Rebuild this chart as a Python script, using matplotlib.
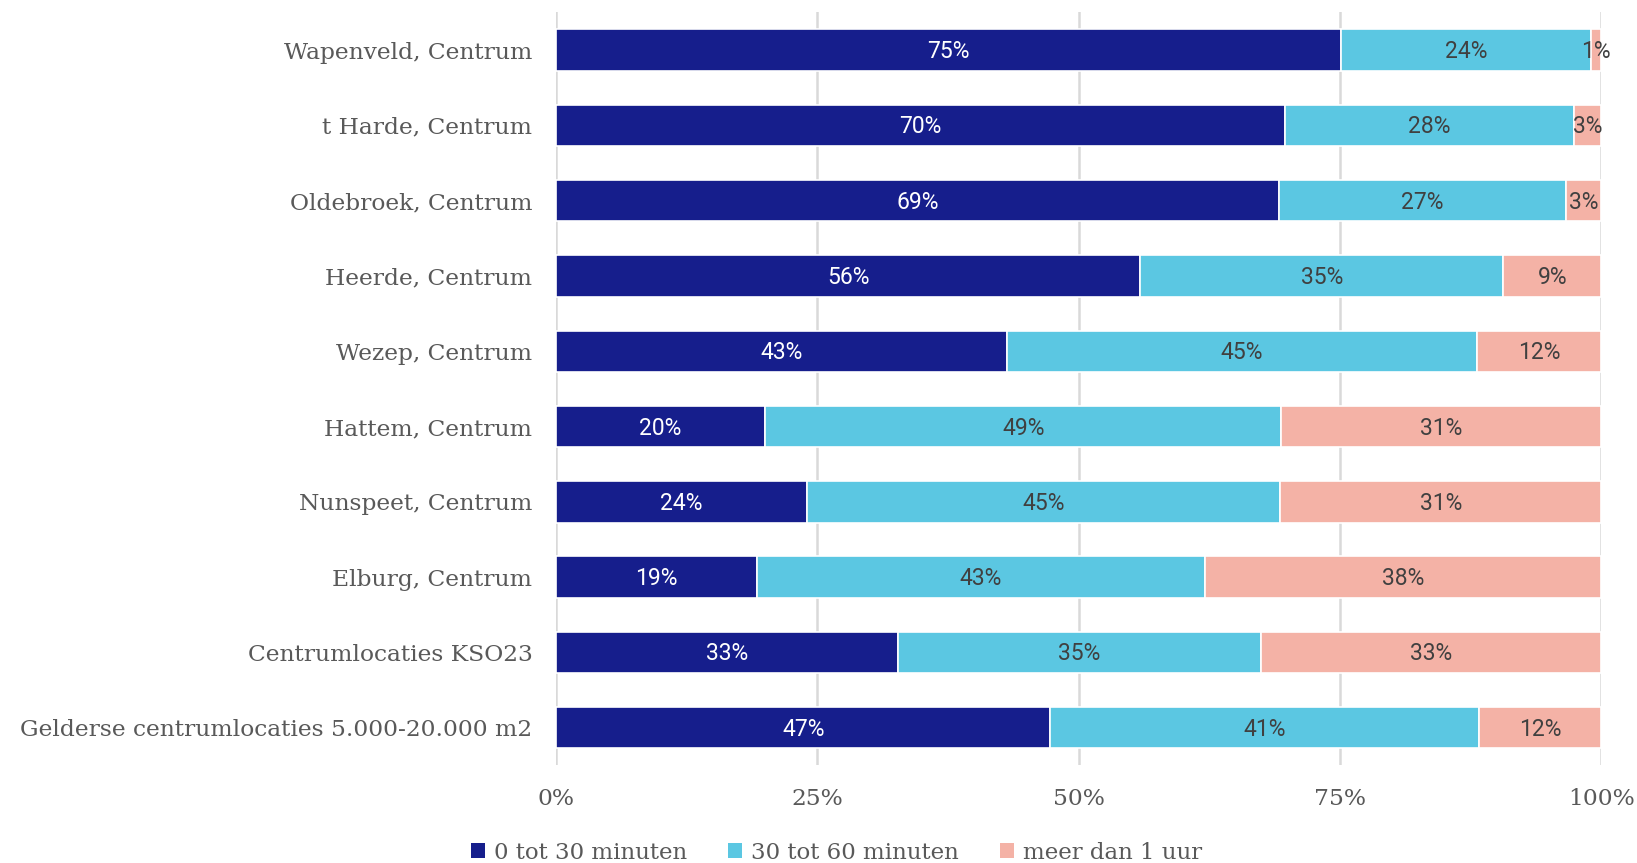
import matplotlib
matplotlib.use("Agg")
import matplotlib.pyplot as plt
from matplotlib.patches import Patch
import numpy as np

categories = [
    "Wapenveld, Centrum",
    "t Harde, Centrum",
    "Oldebroek, Centrum",
    "Heerde, Centrum",
    "Wezep, Centrum",
    "Hattem, Centrum",
    "Nunspeet, Centrum",
    "Elburg, Centrum",
    "Centrumlocaties KSO23",
    "Gelderse centrumlocaties 5.000-20.000 m2",
]
series_names = ["0 tot 30 minuten", "30 tot 60 minuten", "meer dan 1 uur"]
s_0_30 = [75.1, 69.7, 69.2, 55.9, 43.1, 20.0, 24.0, 19.2, 32.7, 47.3]
s_30_60 = [23.9, 27.7, 27.4, 34.7, 45.0, 49.4, 45.3, 42.9, 34.7, 41.0]
s_60_plus = [1.0, 2.6, 3.4, 9.4, 11.9, 30.6, 30.7, 37.9, 32.6, 11.7]
xticks = [0, 25, 50, 75, 100]
xtick_labels = ["0%", "25%", "50%", "75%", "100%"]

colors = ["#161E8C", "#5BC7E2", "#F4B2A6"]
label_colors = ["white", "#404040", "#404040"]

fig = plt.figure(figsize=(16.37, 8.63), dpi=100)
ax = fig.add_axes([0.3397, 0.1132, 0.6385, 0.8724])

y = np.arange(len(categories))
left = np.zeros(len(categories))
for vals, col, lc in zip([s_0_30, s_30_60, s_60_plus], colors, label_colors):
    vals = np.array(vals)
    ax.barh(y, vals, left=left, height=0.55, color=col,
            edgecolor="white", linewidth=1.2, zorder=3)
    for yi, l, v in zip(y, left, vals):
        ax.text(l + v / 2, yi + 0.02, f"{round(v):d}%", ha="center", va="center",
                color=lc, fontsize=16.5, family="Roboto", zorder=4)
    left = left + vals

ax.set_xlim(0, 100)
ax.set_ylim(len(categories) - 0.5, -0.5)
ax.set_yticks(y)
ax.set_yticklabels(categories, family="DejaVu Serif", fontsize=16.8, color="#595959")
ax.set_xticks(xticks)
ax.set_xticklabels(xtick_labels, family="DejaVu Serif", fontsize=16.8, color="#595959")
ax.tick_params(axis="both", length=0)
ax.tick_params(axis="y", pad=17)
ax.tick_params(axis="x", pad=16)
ax.grid(axis="x", color="#D9D9D9", linewidth=1.8, zorder=0)
ax.set_axisbelow(True)
for sp in ax.spines.values():
    sp.set_visible(False)

handles = [Patch(facecolor=c, edgecolor="none") for c in colors]
leg = fig.legend(handles, series_names, loc="center", bbox_to_anchor=(0.511, 0.012),
                 ncol=3, frameon=False, handlelength=0.6, handleheight=0.6,
                 handletextpad=0.4, columnspacing=1.8,
                 prop={"family": "DejaVu Serif", "size": 16.5})
for t in leg.get_texts():
    t.set_color("#595959")

fig.savefig("out.png", dpi=100)
